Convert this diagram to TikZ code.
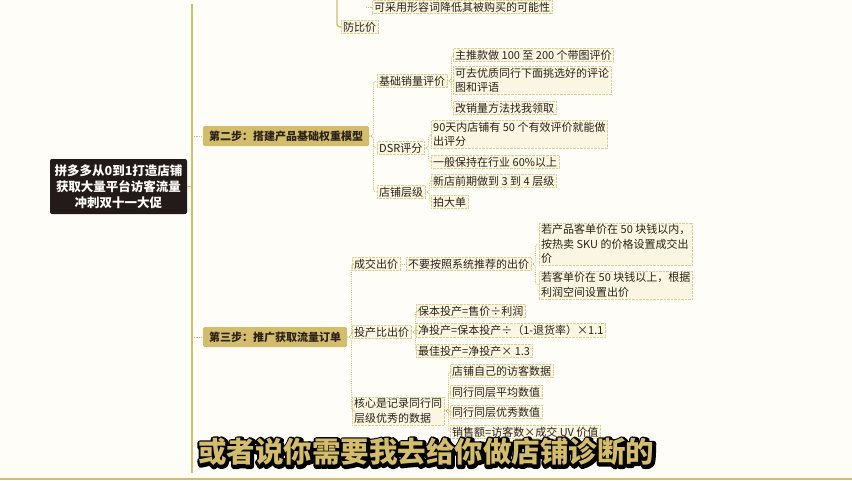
\documentclass[tikz,border=0pt]{standalone}
\usepackage{fontspec}
\setmainfont{Noto Sans CJK SC}
\definecolor{paper}{HTML}{FEFDF8}
\definecolor{gold}{HTML}{D3BD6C}
\definecolor{ink}{HTML}{2A2118}
\definecolor{rootfill}{HTML}{231B19}
\definecolor{leaffill}{HTML}{FBF6E2}
\tikzset{
  leaf/.style={anchor=west,fill=leaffill,draw=gold!75,densely dotted,
    inner xsep=2pt,inner ysep=1.5pt,text=ink,align=left,
    font=\fontsize{11}{14.5}\selectfont},
  stepbox/.style={anchor=west,fill=gold,text=ink,minimum height=20pt,
    inner xsep=6pt,rounded corners=1.5pt,
    font=\bfseries\fontsize{11}{13}\selectfont},
  rootbox/.style={fill=rootfill,text=paper,align=center,minimum width=137pt,
    minimum height=55pt,rounded corners=2pt,
    font=\bfseries\fontsize{12.5}{16}\selectfont},
  link/.style={draw=gold,densely dotted,line width=0.8pt,rounded corners=3pt},
  trunk/.style={draw=gold,line width=1.4pt,rounded corners=3pt},
  subline/.style={font=\bfseries\fontsize{28.5}{30}\selectfont},
}
\newcommand\outlined[1]{\special{pdf:literal direct 1 Tr 5.6 w 1 j}#1%
  \special{pdf:literal direct 0 Tr 1 w 0 j}}
\begin{document}
\begin{tikzpicture}[x=1pt,y=-1pt,>=latex]
    \def\w{852}
    \def\h{480}
    \def\sub{或者说你需要我去给你做店铺诊断的}

    \useasboundingbox (0,0) rectangle (\w,\h);
    \fill[paper] (0,0) rectangle (\w,\h);

    \begin{scope}
        \node[leaf] (cap) at (372,7) {可采用形容词降低其被购买的可能性};
        \node[leaf] (nocmp) at (341,27) {防比价};
        \coordinate (captick) at (366,7);
        \coordinate (captop) at (337,0);
        \draw[trunk] (captop) |- (nocmp.west);
        \draw[link] (captick) -- (cap.west);
    \end{scope}

    \node[rootbox] (root) at (118.5,186.5)
        {拼多多从0到1打造店铺\\获取大量平台访客流量\\冲刺双十一大促};
    \coordinate (trunktop) at (192,4);
    \coordinate (trunkend) at (192,473);
    \draw[trunk] (trunktop) -- (trunkend);
    \draw[trunk] (root.east) -- (root.east -| trunktop);

    \begin{scope}
        \node[stepbox] (step2) at (203,136) {第二步：搭建产品基础权重模型};
        \draw[link] (step2.west -| trunktop) -- (step2.west);

        \node[leaf] (sales) at (377,81) {基础销量评价};
        \node[leaf] (dsr) at (377,148) {DSR评分};
        \node[leaf] (level) at (377,192) {店铺层级};
        \foreach \c in {sales,dsr,level}
            \draw[link] (step2.east) -- ++(4,0) |- (\c.west);

        \node[leaf] (sales1) at (453,55) {主推款做 100 至 200 个带图评价};
        \node[leaf] (sales2) at (453,80.5) {可去优质同行下面挑选好的评论\\图和评语};
        \node[leaf] (sales3) at (453,108) {改销量方法找我领取};
        \foreach \c in {sales1,sales2,sales3}
            \draw[link] (sales.east) -- ++(4,0) |- (\c.west);

        \node[leaf] (dsr1) at (431,134.5) {90天内店铺有 50 个有效评价就能做\\出评分};
        \node[leaf] (dsr2) at (431,162) {一般保持在行业 60\%以上};
        \foreach \c in {dsr1,dsr2}
            \draw[link] (dsr.east) -- ++(4,0) |- (\c.west);

        \node[leaf] (level1) at (431,181) {新店前期做到 3 到 4 层级};
        \node[leaf] (level2) at (431,202) {拍大单};
        \foreach \c in {level1,level2}
            \draw[link] (level.east) -- ++(4,0) |- (\c.west);
    \end{scope}

    \begin{scope}
        \node[stepbox] (step3) at (203,337) {第三步：推广获取流量订单};
        \draw[link] (step3.west -| trunktop) -- (step3.west);

        \node[leaf] (deal) at (352,264) {成交出价};
        \node[leaf] (roi) at (352,332) {投产比出价};
        \node[leaf] (core) at (352,411) {核心是记录同行同\\层级优秀的数据};
        \foreach \c in {deal,roi,core}
            \draw[link] (step3.east) -- ++(4,0) |- (\c.west);

        \node[leaf] (deal1) at (406,264) {不要按照系统推荐的出价};
        \draw[link] (deal.east) -- (deal1.west);
        \node[leaf] (deal1a) at (539,244)
            {若产品客单价在 50 块钱以内，\\按热卖 SKU 的价格设置成交出\\价};
        \node[leaf] (deal1b) at (539,285)
            {若客单价在 50 块钱以上，根据\\利润空间设置出价};
        \foreach \c in {deal1a,deal1b}
            \draw[link] (deal1.east) -- ++(4,0) |- (\c.west);

        \node[leaf] (roi1) at (416,311) {保本投产=售价÷利润};
        \node[leaf] (roi2) at (416,330) {净投产=保本投产÷（1-退货率）×1.1};
        \node[leaf] (roi3) at (416,351) {最佳投产=净投产× 1.3};
        \foreach \c in {roi1,roi2,roi3}
            \draw[link] (roi.east) -- ++(4,0) |- (\c.west);

        \node[leaf] (core1) at (450,371) {店铺自己的访客数据};
        \node[leaf] (core2) at (450,392) {同行同层平均数值};
        \node[leaf] (core3) at (450,412) {同行同层优秀数值};
        \node[leaf] (core4) at (450,432) {销售额=访客数×成交 UV 价值};
        \foreach \c in {core1,core2,core3,core4}
            \draw[link] (core.east) -- ++(4,0) |- (\c.west);
    \end{scope}

    \coordinate (baseleft) at (0,479);
    \coordinate (baseright) at (\w,479);
    \draw[gold,line width=1.5pt] (baseleft) -- (baseright);

    \node[subline,text=black] (subshade) at (426.8,452.8) {\outlined{\sub}};
    \node[subline,text=gold] (subtitle) at (426,452) {\sub};
\end{tikzpicture}
\end{document}
